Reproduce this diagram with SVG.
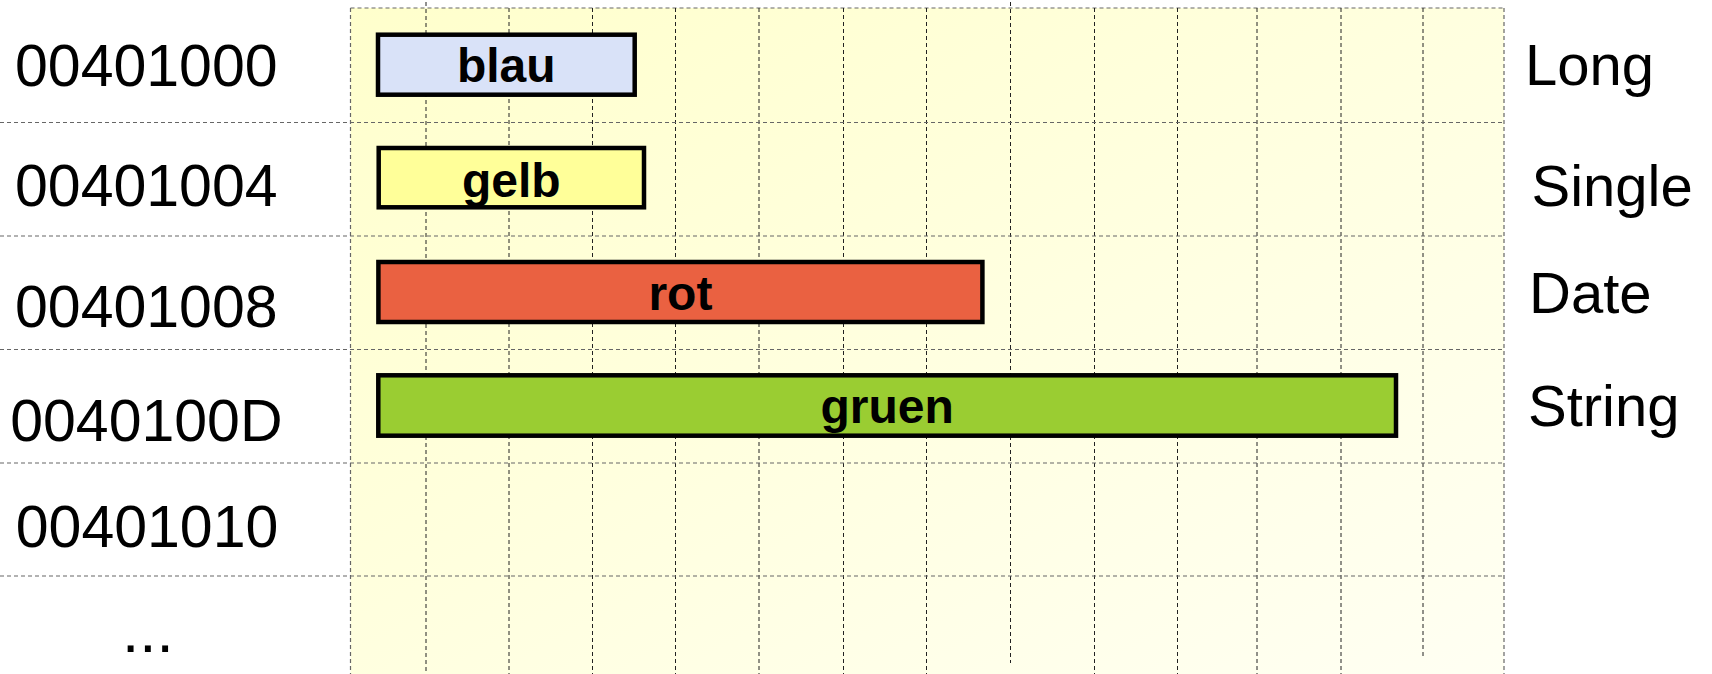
<svg xmlns="http://www.w3.org/2000/svg" width="1712" height="674" viewBox="0 0 1712 674">
  <defs>
    <linearGradient id="bg" x1="0" y1="0" x2="1" y2="1">
      <stop offset="0" stop-color="#FFFFCC"/>
      <stop offset="1" stop-color="#FFFFF3"/>
    </linearGradient>
    <style>
      .vline { stroke: #222; stroke-width: 1; stroke-dasharray: 4 3; fill: none; }
      .hline { stroke: #666; stroke-width: 1.2; stroke-dasharray: 4 3; fill: none; }
      .addr { font-family: "Liberation Sans", Arial, sans-serif; font-size: 59px; fill: #000; }
      .type { font-family: "Liberation Sans", Arial, sans-serif; font-size: 58px; fill: #000; }
      .box { stroke: #000; stroke-width: 4.5; }
      .lbl { font-family: "Liberation Sans", Arial, sans-serif; font-size: 48px; font-weight: bold; fill: #000; text-anchor: middle; }
    </style>
  </defs>
  <rect x="0" y="0" width="1712" height="674" fill="#FFFFFF"/>

  <g id="grid">
    <rect x="350.5" y="8" width="1153.5" height="670" fill="url(#bg)"/>
    <line class="hline" x1="350.5" y1="8" x2="1504" y2="8"/>
    <line class="hline" x1="350.5" y1="8" x2="350.5" y2="674"/>
    <line class="hline" x1="1504" y1="8" x2="1504" y2="674"/>
    <line class="vline" x1="426" y1="2" x2="426" y2="674"/>
    <line class="vline" x1="509" y1="8" x2="509" y2="674"/>
    <line class="vline" x1="592.5" y1="8" x2="592.5" y2="674"/>
    <line class="vline" x1="675.5" y1="8" x2="675.5" y2="674"/>
    <line class="vline" x1="759" y1="8" x2="759" y2="674"/>
    <line class="vline" x1="843.5" y1="8" x2="843.5" y2="674"/>
    <line class="vline" x1="926.5" y1="8" x2="926.5" y2="674"/>
    <line class="vline" x1="1010.5" y1="2" x2="1010.5" y2="663"/>
    <line class="vline" x1="1094.5" y1="8" x2="1094.5" y2="674"/>
    <line class="vline" x1="1177.5" y1="8" x2="1177.5" y2="674"/>
    <line class="vline" x1="1257" y1="8" x2="1257" y2="674"/>
    <line class="vline" x1="1341" y1="8" x2="1341" y2="674"/>
    <line class="vline" x1="1423" y1="8" x2="1423" y2="658"/>
    <line class="hline" x1="0" y1="122.5" x2="1504" y2="122.5"/>
    <line class="hline" x1="0" y1="236" x2="1504" y2="236"/>
    <line class="hline" x1="0" y1="349.5" x2="1504" y2="349.5"/>
    <line class="hline" x1="0" y1="463" x2="1504" y2="463"/>
    <line class="hline" x1="0" y1="576" x2="1504" y2="576"/>
  </g>

  <g id="addresses">
    <text class="addr" x="15" y="86">00401000</text>
    <text class="addr" x="15" y="206">00401004</text>
    <text class="addr" x="15" y="327">00401008</text>
    <text class="addr" x="10.2" y="440.5">0040100D</text>
    <text class="addr" x="15.8" y="547">00401010</text>
    <text class="addr" x="122" y="652" style="font-size:62px">...</text>
  </g>

  <g id="types">
    <text class="type" x="1525" y="85">Long</text>
    <text class="type" x="1531.5" y="206">Single</text>
    <text class="type" x="1529" y="313">Date</text>
    <text class="type" x="1528" y="426">String</text>
  </g>

  <g id="node-blau">
    <rect class="box" x="378" y="34.7" width="256.7" height="60" fill="#D9E2F8"/>
    <text class="lbl" x="506.3" y="82">blau</text>
  </g>
  <g id="node-gelb">
    <rect class="box" x="378.7" y="148" width="265.3" height="59.3" fill="#FFFF99"/>
    <text class="lbl" x="511.3" y="196.5">gelb</text>
  </g>
  <g id="node-rot">
    <rect class="box" x="378.4" y="262" width="604" height="60" fill="#EA6141"/>
    <text class="lbl" x="680.4" y="309.5">rot</text>
  </g>
  <g id="node-gruen">
    <rect class="box" x="378.3" y="375.3" width="1017.7" height="60.4" fill="#9ACD32"/>
    <text class="lbl" x="887.2" y="423">gruen</text>
  </g>

  <g id="connectors"/>
</svg>
